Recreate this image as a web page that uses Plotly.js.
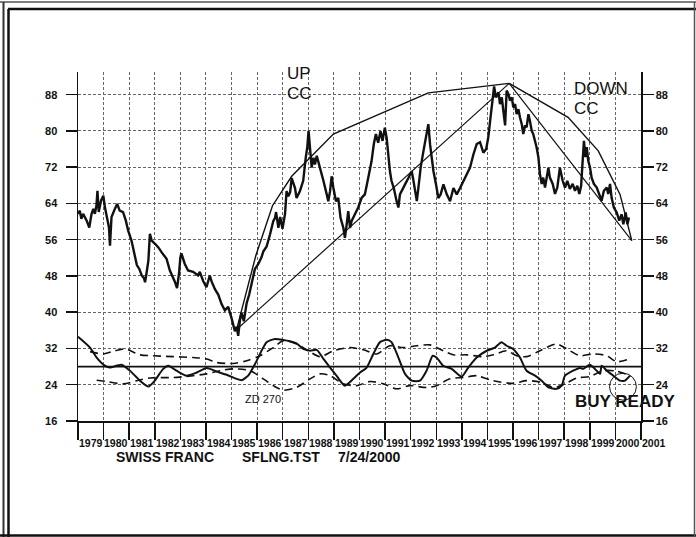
<!DOCTYPE html>
<html>
<head>
<meta charset="utf-8">
<script src="https://cdn.plot.ly/plotly-3.0.1.min.js"></script>
<style>
  html, body { margin: 0; padding: 0; background: #fff; }
  #chart { width: 696px; height: 537px; }
</style>
</head>
<body>
<div id="chart"></div>
<script>
// ---- Price (Swiss franc) ----
const priceYear = [
1979.00,1979.07,1979.13,1979.20,1979.34,1979.44,1979.53,1979.60,1979.66,1979.72,1979.76,1979.81,1979.90,1979.99,
1980.05,1980.12,1980.21,1980.25,1980.31,1980.44,1980.53,1980.63,1980.76,1980.87,1980.96,
1981.09,1981.22,1981.30,1981.40,1981.49,1981.58,1981.62,1981.68,1981.75,1981.81,1981.88,
1982.01,1982.14,1982.27,1982.36,1982.46,1982.59,1982.69,1982.78,1982.87,1982.95,
1983.00,1983.04,1983.17,1983.30,1983.50,1983.69,1983.76,1983.89,
1984.02,1984.15,1984.22,1984.35,1984.48,1984.61,1984.74,1984.87,
1985.00,1985.07,1985.13,1985.20,1985.26,1985.33,1985.39,1985.48,1985.59,1985.69,1985.78,1985.85,1985.91,
1986.04,1986.17,1986.24,1986.37,1986.50,1986.63,1986.70,1986.74,1986.83,1986.90,1986.99,
1987.09,1987.15,1987.22,1987.29,1987.35,1987.48,1987.54,1987.67,1987.74,1987.80,1987.90,1987.96,
1988.01,1988.07,1988.13,1988.20,1988.26,1988.33,1988.46,1988.59,1988.72,1988.78,1988.85,1988.91,1988.98,
1989.08,1989.17,1989.26,1989.37,1989.43,1989.50,1989.56,1989.63,1989.69,1989.82,1989.95,
1990.08,1990.21,1990.34,1990.47,1990.56,1990.64,1990.73,1990.82,1990.90,1990.99,
1991.06,1991.12,1991.19,1991.25,1991.34,1991.45,1991.52,1991.58,1991.69,1991.78,1991.91,
1992.04,1992.10,1992.17,1992.24,1992.30,1992.39,1992.50,1992.60,1992.69,1992.76,1992.82,1992.89,1992.99,
1993.08,1993.17,1993.28,1993.41,1993.54,1993.67,1993.80,1993.93,
1994.06,1994.19,1994.32,1994.45,1994.58,1994.71,1994.84,1994.95,
1995.03,1995.12,1995.20,1995.26,1995.33,1995.43,1995.49,1995.56,1995.62,1995.69,1995.75,1995.82,1995.88,1995.95,
1996.01,1996.08,1996.14,1996.21,1996.27,1996.34,1996.40,1996.47,1996.53,1996.60,1996.66,1996.73,1996.79,1996.86,1996.92,1996.99,
1997.05,1997.12,1997.18,1997.25,1997.31,1997.38,1997.44,1997.55,1997.64,1997.73,1997.83,1997.94,
1998.03,1998.12,1998.22,1998.33,1998.42,1998.51,1998.59,1998.66,1998.72,1998.77,1998.83,1998.88,1998.94,
1999.01,1999.07,1999.16,1999.27,1999.37,1999.46,1999.55,1999.66,1999.72,1999.79,1999.85,1999.94,
2000.05,2000.15,2000.24,2000.31,2000.40,2000.47,2000.53
];
const priceVal = [
61.7,62.4,60.6,61.7,60.2,58.7,61.7,62.8,61.7,63.5,66.8,62.1,64.6,65.7,
63.2,61.0,58.7,54.7,61.0,62.8,63.9,62.4,62.1,60.2,58.0,
55.8,52.4,50.4,49.5,48.1,47.5,46.6,48.7,51.4,57.3,55.8,
55.1,54.3,53.2,52.4,51.8,49.2,48.1,46.8,45.3,48.7,
52.1,53.0,50.7,49.2,48.9,48.1,48.9,46.9,
45.5,48.1,46.8,45.1,43.9,41.8,40.4,41.2,
38.7,37.2,35.8,36.8,34.8,38.3,39.9,38.0,42.0,43.9,46.2,47.6,49.5,
50.6,52.1,53.4,54.5,57.1,60.1,60.8,62.1,58.6,61.0,58.4,
61.7,66.7,65.6,66.5,69.6,67.4,65.2,66.7,68.2,69.0,74.1,76.4,
80.0,74.8,71.9,74.1,72.6,74.5,71.9,69.0,66.0,64.5,66.7,70.0,67.4,
64.5,65.2,60.8,58.6,56.4,59.4,62.3,58.6,60.1,61.6,63.1,
65.2,66.0,69.6,73.3,77.1,79.3,77.4,80.0,77.8,80.7,
78.5,74.1,71.1,69.0,67.4,64.5,63.1,66.0,67.4,68.2,69.6,
71.1,69.3,66.7,64.5,67.4,71.9,75.6,78.5,81.5,76.9,74.1,71.1,68.2,
65.2,66.0,68.2,66.0,64.5,67.4,66.0,67.4,
69.0,70.4,71.9,74.8,77.1,77.5,75.2,76.0,
78.5,83.0,87.4,89.8,87.4,88.5,85.9,87.4,84.5,81.2,88.9,88.1,86.7,87.4,
85.2,85.9,83.7,84.8,83.0,81.5,79.3,81.2,80.8,83.7,82.2,80.0,79.3,77.8,76.4,74.2,
70.5,68.3,69.7,67.5,69.4,71.9,69.7,68.3,66.1,67.5,71.9,69.0,
67.5,69.0,67.2,68.3,66.8,67.9,66.1,67.9,73.4,77.8,74.2,76.4,73.4,
71.9,69.7,68.3,67.5,66.1,64.6,66.8,67.5,66.1,68.3,65.3,63.1,
62.0,60.2,61.6,59.4,62.0,59.4,60.9
];

// ---- Oscillator (solid) ----
const oscYear = [1979.0,1979.47,1979.73,1980.05,1980.25,1980.7,1981.03,1981.42,1981.75,1982.0,1982.33,1982.53,1982.85,1983.24,1983.64,1984.03,1984.42,1984.81,1985.2,1985.39,1985.65,1985.92,1986.11,1986.37,1986.7,1987.02,1987.28,1987.54,1987.8,1988.07,1988.33,1988.59,1988.85,1989.1,1989.43,1989.76,1990.02,1990.28,1990.54,1990.8,1991.06,1991.25,1991.52,1991.78,1992.04,1992.36,1992.62,1992.86,1993.01,1993.27,1993.6,1993.99,1994.25,1994.58,1994.97,1995.29,1995.55,1995.75,1996.0,1996.27,1996.53,1996.86,1997.12,1997.38,1997.7,1997.9,1998.03,1998.35,1998.61,1998.74,1999.0,1999.2,1999.4,1999.46,1999.66,1999.92,2000.18,2000.37,2000.57];
const oscVal  = [34.6,32.2,30.0,28.2,27.8,28.4,27.1,24.9,23.6,24.9,27.5,28.2,27.1,26.0,26.7,27.7,26.9,26.2,25.3,25.0,26.0,28.6,30.8,33.4,34.1,33.9,33.6,33.1,31.9,31.5,31.7,29.7,27.8,26.0,23.8,25.3,26.7,27.8,30.8,33.4,33.9,33.4,30.0,26.4,24.9,24.9,27.1,30.4,30.0,28.2,27.5,25.8,27.8,30.0,31.5,32.2,33.4,32.6,31.9,30.0,27.1,26.0,24.9,23.4,23.1,23.8,26.0,27.1,27.7,27.5,28.4,27.5,26.4,28.2,27.1,26.0,24.9,24.9,26.0];

// ---- Upper band (dashed) ----
const upYear = [1979.47,1979.99,1980.45,1980.84,1981.42,1981.94,1982.72,1983.5,1984.03,1984.42,1985.07,1985.59,1986.11,1986.63,1987.02,1987.54,1988.0,1988.46,1988.98,1989.63,1990.15,1990.67,1991.19,1991.71,1992.24,1992.75,1993.27,1993.66,1994.18,1994.83,1995.23,1995.75,1996.14,1996.53,1997.05,1997.7,1998.22,1998.61,1999.13,1999.66,2000.05,2000.57];
const upVal  = [31.3,30.8,31.5,31.9,30.6,30.4,30.2,30.0,29.7,28.9,28.7,29.3,30.4,32.2,33.7,33.0,31.5,30.2,31.5,32.2,31.7,30.8,32.6,32.2,32.6,32.8,31.5,30.6,30.6,30.2,30.6,31.5,30.4,30.2,31.5,33.0,31.5,30.4,30.8,30.4,29.1,29.7];

// ---- Lower band (dashed) ----
const loYear = [1979.73,1980.12,1980.77,1981.29,1981.81,1982.72,1983.5,1984.03,1984.55,1985.07,1985.72,1986.24,1986.63,1987.02,1987.54,1988.07,1988.46,1988.85,1989.37,1989.89,1990.41,1990.93,1991.45,1991.97,1992.62,1993.01,1993.53,1994.05,1994.58,1994.71,1995.23,1996.0,1996.53,1997.12,1997.57,1998.03,1998.49,1999.0,1999.52,2000.05,2000.57];
const loVal  = [25.0,24.7,24.2,24.9,25.5,25.6,26.0,26.4,27.1,27.5,27.1,25.3,23.8,22.8,23.4,25.3,26.4,26.0,24.2,23.8,24.7,24.2,23.1,23.8,23.4,23.8,25.3,25.6,26.0,25.8,24.9,24.3,24.9,24.5,23.4,24.2,25.5,25.8,27.1,27.0,26.0];

const midLevel = 28;

// ---- Channel lines ----
const upCurveYear = [1985.2,1985.95,1986.6,1987.35,1988.98,1992.69,1995.85];
const upCurveVal  = [36.2,52.5,63.5,70.0,79.3,88.4,90.5];
const upLineYear  = [1985.2,1995.85];
const upLineVal   = [36.2,90.5];
const dnCurveYear = [1995.85,1998.15,1999.33,2000.18,2000.64];
const dnCurveVal  = [90.5,83.0,75.6,66.0,55.8];
const dnLineYear  = [1995.85,2000.64];
const dnLineVal   = [90.5,55.8];

// ---- Axes ----
const xStart = 1979, xEnd = 2001;
const years = [];
for (let y = xStart; y <= xEnd; y++) years.push(y);
const yearLabels = years.map(String);
const yTicks = [16,24,32,40,48,56,64,72,80,88];

// pixel helpers for frame / captions (plot area l=78, t=72, w=563, h=349)
const L = 78, T = 72, W = 563, H = 349;
const px = v => (v - L) / W;
const py = v => (T + H - v) / H;

const FONT = 'Liberation Sans, Arial, sans-serif';

const traces = [
  {x: priceYear, y: priceVal, mode: 'lines', line: {color: '#111', width: 2.4}, hoverinfo: 'skip'},
  {x: oscYear, y: oscVal, mode: 'lines', line: {color: '#111', width: 2, shape: 'spline', smoothing: 0.6}},
  {x: upYear, y: upVal, mode: 'lines', line: {color: '#111', width: 1.6, dash: '8px,5px', shape: 'spline', smoothing: 0.8}},
  {x: loYear, y: loVal, mode: 'lines', line: {color: '#111', width: 1.6, dash: '8px,5px', shape: 'spline', smoothing: 0.8}},
  {x: [xStart, xEnd], y: [midLevel, midLevel], mode: 'lines', line: {color: '#111', width: 1.6}},
  {x: upCurveYear, y: upCurveVal, mode: 'lines', line: {color: '#111', width: 1.4}},
  {x: upLineYear, y: upLineVal, mode: 'lines', line: {color: '#111', width: 1.2}},
  {x: dnCurveYear, y: dnCurveVal, mode: 'lines', line: {color: '#111', width: 1.4}},
  {x: dnLineYear, y: dnLineVal, mode: 'lines', line: {color: '#111', width: 1.2}},
  {x: [xStart], y: [16], yaxis: 'y2', mode: 'markers', marker: {opacity: 0}, hoverinfo: 'skip'}
];

const annotations = [];
years.forEach((yr, i) => {
  annotations.push({x: (yr + 0.5 - xStart) / (xEnd - xStart), y: py(443), xref: 'paper', yref: 'paper', text: yearLabels[i],
    showarrow: false, xanchor: 'center', yanchor: 'middle',
    font: {family: FONT, size: 10.5, color: '#111', weight: 'bold'}});
});
const captions = [['SWISS FRANC', 114], ['SFLNG.TST', 240], ['7/24/2000', 336]];
captions.forEach(c => annotations.push({x: px(c[1]), y: py(457), xref: 'paper', yref: 'paper', text: c[0],
  showarrow: false, xanchor: 'left', yanchor: 'middle', font: {family: FONT, size: 14, color: '#111', weight: 'bold'}}));
const notes = [
  ['UP', 1987.09, 92.7, 17, 'normal'], ['CC', 1987.09, 88.3, 17, 'normal'],
  ['DOWN', 1998.3, 89.4, 17, 'normal'], ['CC', 1998.3, 84.9, 17, 'normal'],
  ['BUY READY', 1998.34, 20.3, 17, 'bold'], ['ZD 270', 1985.45, 20.9, 11, 'normal']
];
notes.forEach(n => annotations.push({x: n[1], y: n[2], xref: 'x', yref: 'y', text: n[0], showarrow: false,
  xanchor: 'left', yanchor: 'middle', font: {family: FONT, size: n[3], color: '#111', weight: n[4]}}));

const shapes = [
  {type: 'circle', xref: 'x', yref: 'y', x0: 1999.77, x1: 2000.82, y0: 20.6, y1: 26.55, line: {color: '#111', width: 1}},
  // frame
  {type: 'line', xref: 'paper', yref: 'paper', x0: px(0), x1: px(696), y0: py(2), y1: py(2), line: {color: '#555', width: 1.5}},
  {type: 'line', xref: 'paper', yref: 'paper', x0: px(3.5), x1: px(3.5), y0: py(537), y1: py(2), line: {color: '#333', width: 2}},
  {type: 'line', xref: 'paper', yref: 'paper', x0: px(8.5), x1: px(8.5), y0: py(537), y1: py(9), line: {color: '#111', width: 2.5}},
  {type: 'line', xref: 'paper', yref: 'paper', x0: px(8), x1: px(696), y0: py(9), y1: py(9), line: {color: '#111', width: 2.5}},
  {type: 'line', xref: 'paper', yref: 'paper', x0: px(0), x1: px(696), y0: py(535.5), y1: py(535.5), line: {color: '#111', width: 2.5}},
  {type: 'line', xref: 'paper', yref: 'paper', x0: px(694.5), x1: px(694.5), y0: py(537), y1: py(2), line: {color: '#555', width: 1.5}}
];

const axisCommon = {
  showline: true, linecolor: '#111', linewidth: 1.5, zeroline: false,
  ticks: 'outside', tickcolor: '#111', tickwidth: 1.5
};

const layout = {
  width: 696, height: 537,
  margin: {l: L, r: 696 - L - W, t: T, b: 537 - T - H},
  paper_bgcolor: '#fff', plot_bgcolor: '#fff',
  showlegend: false,
  xaxis: Object.assign({}, axisCommon, {
    range: [xStart, xEnd], tickmode: 'array', tickvals: years, ticklen: 17,
    showticklabels: false, showgrid: true, gridcolor: '#666', gridwidth: 1, griddash: '3px,2px'
  }),
  yaxis: Object.assign({}, axisCommon, {
    range: [16, 93], tickmode: 'array', tickvals: yTicks, ticklen: 11,
    showgrid: true, gridcolor: '#666', gridwidth: 1, griddash: '3px,2px',
    tickfont: {family: FONT, size: 11, color: '#111', weight: 'bold'}, ticklabelstandoff: 6
  }),
  yaxis2: Object.assign({}, axisCommon, {
    range: [16, 93], tickmode: 'array', tickvals: yTicks, ticklen: 11,
    overlaying: 'y', side: 'right', showgrid: false,
    tickfont: {family: FONT, size: 11, color: '#111', weight: 'bold'}
  }),
  annotations: annotations,
  shapes: shapes
};

Plotly.newPlot('chart', traces, layout, {displayModeBar: false, staticPlot: true});
</script>
</body>
</html>
